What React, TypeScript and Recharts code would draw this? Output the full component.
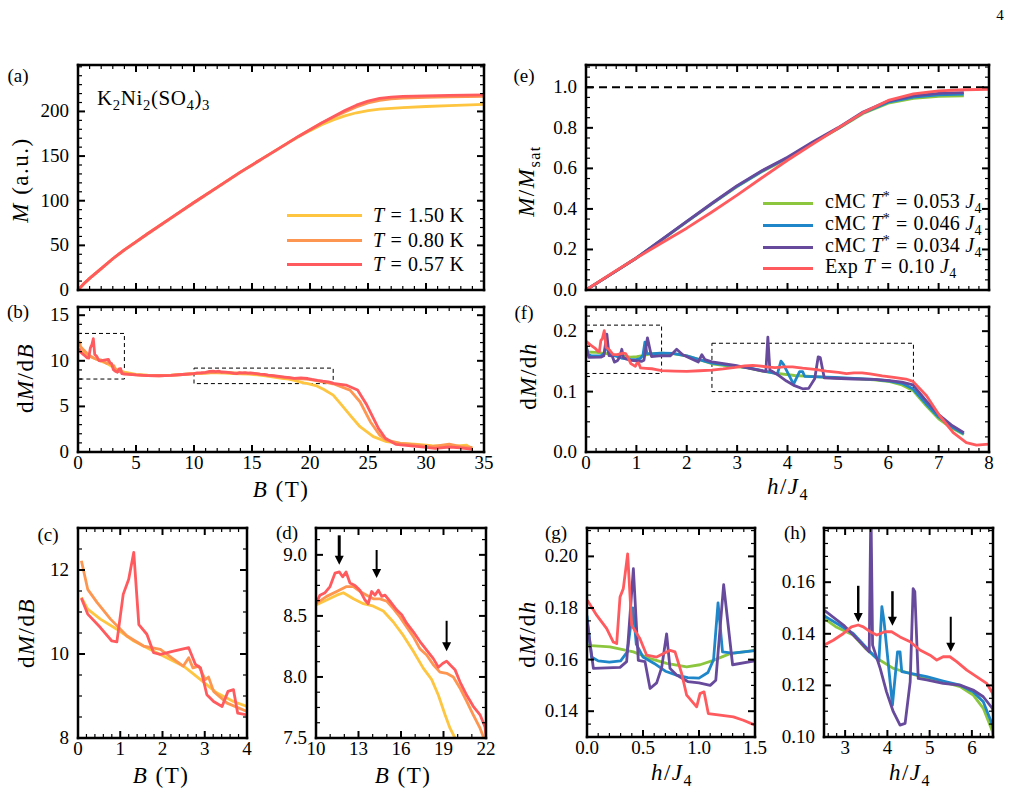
import React from "react";
import {
  LineChart,
  Line,
  XAxis,
  YAxis,
  ReferenceLine,
  ReferenceArea,
} from "recharts";

const FONT = '"Liberation Serif", "DejaVu Serif", serif';
const YELLOW = "#fdc540";
const ORANGE = "#fd9650";
const RED = "#ff5a5e";
const GREEN = "#8cc63f";
const BLUE = "#1f87c9";
const PURPLE = "#674a9c";

// ---- (a) magnetisation M(B) ----
const mB = [0, 0.5, 1, 2, 3, 4, 5, 6, 8, 10, 12, 14, 16, 18, 19, 20, 21, 22, 23, 24, 25, 26, 27, 28, 30, 32, 35];
const mRed = [0, 7, 13, 24, 35, 45, 54, 63, 80.5, 98, 115, 132, 148, 164, 172, 179.5, 187, 194, 201, 207, 211.5, 214.5, 216, 216.8, 217.5, 218, 218.5];
const mOrange = [0, 7, 13, 24, 35, 45, 54, 63, 80.5, 98, 115, 132, 148, 164, 172, 179.5, 187, 193.5, 199.5, 205, 209.5, 212.5, 214, 215, 215.8, 216.2, 216.8];
const mYellow = [0, 7, 13, 24, 35, 45, 54, 63, 80.5, 98, 115, 132, 148, 164, 171.5, 178.5, 185, 190.5, 195, 198.5, 201, 202.5, 203.5, 204.3, 205.5, 206.5, 208];

// ---- (b),(c),(d) dM/dB ----
const dRedB = [0.08, 0.23, 0.53, 0.8, 0.92, 1.07, 1.2, 1.32, 1.44, 1.63, 1.79, 1.95, 2.26, 2.62, 2.78, 2.9, 3.05, 3.21, 3.41, 3.55, 3.68, 3.78, 4.0, 5, 6, 7, 8, 9, 10, 10.28, 10.64, 10.99, 11.34, 11.65, 11.88, 12.12, 12.4, 12.75, 13.1, 13.46, 13.69, 13.93, 14.16, 14.4, 14.64, 14.87, 15.22, 15.69, 16.05, 16.4, 16.87, 17.34, 17.81, 18.28, 18.64, 18.94, 19.22, 19.46, 19.81, 20.16, 20.64, 21.1, 21.58, 21.93, 22, 23.1, 24.1, 24.9, 25.9, 26.5, 27.4, 28.5, 29.4, 30.8, 32, 33, 34];
const dRedV = [11.33, 10.95, 10.63, 10.31, 10.29, 11.42, 11.78, 12.42, 10.7, 10.47, 10.03, 9.99, 10.07, 10.15, 9.75, 9.67, 9.03, 8.87, 8.75, 9.11, 9.15, 8.59, 8.55, 8.45, 8.38, 8.36, 8.4, 8.5, 8.6, 8.67, 8.69, 8.74, 8.85, 8.86, 8.82, 8.86, 8.77, 8.75, 8.71, 8.63, 8.6, 8.7, 8.67, 8.71, 8.66, 8.67, 8.62, 8.55, 8.51, 8.44, 8.37, 8.29, 8.22, 8.15, 8.08, 8.11, 8.13, 8.1, 8.06, 7.96, 7.85, 7.76, 7.69, 7.59, 7.52, 7.34, 6.79, 5.15, 2.59, 1.5, 0.84, 0.7, 0.58, 0.4, 0.55, 0.45, 0.3];
const dOrangeB = [0.08, 0.23, 0.45, 0.77, 1.16, 1.55, 1.95, 2.22, 2.49, 2.62, 2.72, 2.86, 3.01, 3.09, 3.21, 3.53, 4.0, 5, 6, 7, 8, 9, 10, 10.75, 11.46, 12.16, 12.64, 13.1, 13.58, 14.05, 14.52, 15.0, 15.46, 15.93, 16.4, 16.87, 17.34, 17.81, 18.28, 18.75, 19.22, 19.69, 20.16, 20.64, 21.1, 21.58, 21.81, 22.0, 23.45, 24.31, 25.2, 26.0, 26.6, 27.8, 29, 30.5, 32, 33, 34];
const dOrangeV = [12.22, 11.54, 11.23, 10.83, 10.43, 10.19, 10.11, 9.91, 9.71, 9.91, 9.67, 9.71, 9.39, 9.45, 9.11, 8.83, 8.63, 8.45, 8.38, 8.36, 8.4, 8.5, 8.6, 8.66, 8.7, 8.74, 8.74, 8.7, 8.67, 8.64, 8.64, 8.62, 8.56, 8.49, 8.41, 8.33, 8.23, 8.18, 8.1, 8.04, 8.03, 8.0, 7.91, 7.8, 7.69, 7.58, 7.51, 7.48, 6.79, 5.51, 3.32, 1.86, 1.31, 0.95, 0.8, 0.6, 0.85, 0.6, 0.5];
const dYellowB = [0.08, 0.23, 0.53, 0.92, 1.32, 1.71, 2.1, 2.5, 2.9, 3.29, 3.68, 4.0, 5, 6, 7, 8, 9, 10, 10.75, 11.46, 11.93, 12.64, 13.34, 14.05, 14.75, 15.46, 16.16, 16.87, 17.58, 18.16, 18.64, 19.11, 19.46, 19.81, 20.5, 21.2, 22.0, 22.7, 23.45, 24.31, 25.46, 26.6, 27.8, 29, 30.5, 32, 33.5, 34];
const dYellowV = [11.35, 11.07, 10.83, 10.59, 10.31, 10.11, 9.91, 9.71, 9.39, 9.07, 8.87, 8.75, 8.5, 8.42, 8.4, 8.42, 8.5, 8.59, 8.63, 8.67, 8.69, 8.64, 8.6, 8.58, 8.54, 8.45, 8.34, 8.21, 8.07, 7.98, 7.85, 7.69, 7.58, 7.5, 7.28, 6.85, 6.24, 5.2, 4.05, 2.77, 1.68, 1.13, 0.95, 0.85, 0.7, 0.6, 0.75, 0.3];

// ---- (e) M/Msat vs h/J4 ----
const eH = [0, 0.5, 1, 1.5, 2, 2.5, 3, 3.5, 4, 4.5, 5, 5.5, 6, 6.5, 7, 7.5];
const eGreen = [0, 0.078, 0.158, 0.246, 0.336, 0.425, 0.51, 0.585, 0.65, 0.725, 0.795, 0.871, 0.922, 0.945, 0.955, 0.958];
const eBlue = [0, 0.078, 0.158, 0.247, 0.337, 0.426, 0.512, 0.587, 0.652, 0.727, 0.797, 0.874, 0.927, 0.952, 0.963, 0.967];
const ePurple = [0, 0.078, 0.158, 0.248, 0.338, 0.428, 0.515, 0.59, 0.655, 0.73, 0.8, 0.878, 0.932, 0.958, 0.97, 0.974];
const eExpH = [0, 0.5, 1, 1.5, 2, 2.5, 3, 3.5, 4, 4.5, 5, 5.5, 6, 6.5, 7, 7.5, 8];
const eExp = [0, 0.08, 0.158, 0.232, 0.305, 0.385, 0.468, 0.555, 0.64, 0.72, 0.798, 0.875, 0.935, 0.968, 0.982, 0.988, 0.99];

// ---- (f),(g),(h) dM/dh ----
const fExpH = [0.003, 0.086, 0.176, 0.235, 0.265, 0.295, 0.324, 0.363, 0.399, 0.473, 0.533, 0.622, 0.741, 0.786, 0.845, 0.89, 0.979, 1.009, 1.045, 1.083, 1.188, 1.307, 1.396, 1.5, 1.75, 2.0, 2.25, 2.5, 2.72, 2.96, 3.15, 3.31, 3.43, 3.59, 3.75, 3.94, 4.1, 4.3, 4.54, 4.77, 5.01, 5.17, 5.32, 5.48, 5.64, 5.88, 6.11, 6.35, 6.49, 6.76, 7.02, 7.29, 7.55, 7.75, 8.0];
const fExpV = [0.183, 0.1772, 0.172, 0.1668, 0.1662, 0.1843, 0.1875, 0.201, 0.1733, 0.1681, 0.1617, 0.161, 0.1636, 0.163, 0.1546, 0.1462, 0.1417, 0.1468, 0.1475, 0.1391, 0.1385, 0.1378, 0.1365, 0.1346, 0.134, 0.1335, 0.1345, 0.1356, 0.1375, 0.1401, 0.1427, 0.1434, 0.1427, 0.1408, 0.1395, 0.1408, 0.1408, 0.1388, 0.1369, 0.1337, 0.1317, 0.1298, 0.1311, 0.1311, 0.1292, 0.1259, 0.1234, 0.1208, 0.1169, 0.093, 0.06, 0.032, 0.0156, 0.0115, 0.013];
const fGreenH = [0, 0.205, 0.414, 0.563, 0.711, 0.89, 1.009, 1.128, 1.277, 1.5, 1.75, 2.0, 2.25, 2.5, 2.8, 3.19, 3.5, 3.75, 4.14, 4.54, 4.93, 5.32, 5.72, 6.03, 6.27, 6.49, 6.75, 7.0, 7.25, 7.5];
const fGreenV = [0.1655, 0.1649, 0.163, 0.1604, 0.1585, 0.1572, 0.158, 0.1597, 0.1623, 0.1636, 0.1625, 0.159, 0.153, 0.146, 0.1425, 0.1395, 0.134, 0.1305, 0.1266, 0.1246, 0.1227, 0.1214, 0.1195, 0.1163, 0.1111, 0.102, 0.077, 0.055, 0.04, 0.029];
const fBlueH = [0, 0.04, 0.1, 0.2, 0.3, 0.36, 0.41, 0.44, 0.5, 0.6, 0.7, 0.8, 0.9, 1.0, 1.08, 1.13, 1.17, 1.21, 1.3, 1.4, 1.5, 1.75, 2.0, 2.25, 2.5, 3.19, 3.67, 3.8, 3.87, 3.92, 4.12, 4.24, 4.3, 4.34, 4.93, 5.32, 5.72, 6.03, 6.27, 6.49, 6.75, 7.0, 7.25, 7.5];
const fBlueV = [0.177, 0.161, 0.1595, 0.159, 0.1595, 0.163, 0.18, 0.166, 0.161, 0.1585, 0.1555, 0.154, 0.153, 0.1528, 0.155, 0.16, 0.182, 0.163, 0.1625, 0.163, 0.1635, 0.163, 0.159, 0.153, 0.147, 0.1401, 0.1317, 0.1295, 0.1505, 0.145, 0.1124, 0.133, 0.133, 0.1253, 0.1234, 0.1217, 0.1201, 0.1175, 0.1137, 0.1046, 0.08, 0.058, 0.042, 0.03];
const fPurpleH = [0, 0.057, 0.295, 0.354, 0.414, 0.458, 0.518, 0.563, 0.622, 0.667, 0.711, 0.741, 0.8, 0.9, 1.0, 1.1, 1.15, 1.22, 1.3, 1.5, 1.67, 1.8, 1.92, 2.1, 2.23, 2.3, 2.36, 2.5, 2.96, 3.35, 3.57, 3.61, 3.65, 3.83, 3.98, 4.14, 4.3, 4.42, 4.54, 4.61, 4.65, 4.73, 4.93, 5.32, 5.72, 6.03, 6.27, 6.49, 6.75, 7.0, 7.25, 7.5];
const fPurpleV = [0.1752, 0.1566, 0.157, 0.1592, 0.1952, 0.1597, 0.1592, 0.1488, 0.151, 0.157, 0.17, 0.1566, 0.154, 0.1515, 0.151, 0.15, 0.152, 0.189, 0.158, 0.1595, 0.159, 0.17, 0.161, 0.154, 0.149, 0.161, 0.153, 0.1492, 0.1434, 0.1369, 0.133, 0.19, 0.1356, 0.1266, 0.1175, 0.1098, 0.1046, 0.1053, 0.1214, 0.1575, 0.1563, 0.1227, 0.1221, 0.1208, 0.1201, 0.1182, 0.1156, 0.111, 0.085, 0.062, 0.045, 0.032];

// ---- tick labels ----
const bTicks = [0, 5, 10, 15, 20, 25, 30, 35];
const aYTicks = [0, 50, 100, 150, 200];
const bYTicks = [0, 5, 10, 15];
const cXTicks = [0, 1, 2, 3, 4];
const cYTicks = [8, 10, 12];
const dXTicks = [10, 13, 16, 19, 22];
const dYTicks = [7.5, 8.0, 8.5, 9.0];
const hTicks = [0, 1, 2, 3, 4, 5, 6, 7, 8];
const eYTicks = [0, 0.2, 0.4, 0.6, 0.8, 1.0];
const fYTicks = [0, 0.1, 0.2];
const gXTicks = [0, 0.5, 1.0, 1.5];
const gYTicks = [0.14, 0.16, 0.18, 0.2];
const hXTicks = [3, 4, 5, 6];
const hYTicks = [0.1, 0.12, 0.14, 0.16];

// ---- annotations ----
const dArrows = [
  { x: 11.64, from: 9.16, to: 8.92, w: 3 },
  { x: 14.28, from: 9.04, to: 8.81, w: 2 },
  { x: 19.22, from: 8.46, to: 8.21, w: 2 },
];
const hArrows = [
  { x: 3.31, from: 0.1586, to: 0.1446, w: 2.5 },
  { x: 4.12, from: 0.1565, to: 0.1431, w: 2.5 },
  { x: 5.5, from: 0.1466, to: 0.133, w: 2 },
];

const pts = (xs: number[], ys: number[]) => xs.map((x, i) => ({ x, y: ys[i] }));

function withMinor(majors: number[], step: number, dom: [number, number]) {
  const out: number[] = [];
  const n0 = Math.ceil(dom[0] / step - 1e-9);
  const n1 = Math.floor(dom[1] / step + 1e-9);
  for (let k = n0; k <= n1; k++) out.push(+(k * step).toFixed(6));
  majors.forEach((m) => {
    if (!out.some((v) => Math.abs(v - m) < 1e-9)) out.push(m);
  });
  return out.sort((a, b) => a - b);
}

type Fmt = ((v: number) => string) | null;

const tickFn = (side: string, majors: number[], fmt: Fmt) => (props: any) => {
  const { x, y, payload } = props;
  const v = payload.value;
  const major = majors.some((m) => Math.abs(m - v) < 1e-7);
  const L = major ? 7 : 4;
  const sw = major ? 2 : 1.2;
  let line;
  let text = null;
  const ts = { fontFamily: FONT, fontSize: 19, fill: "#000" };
  if (side === "bottom") {
    line = <line x1={x} y1={y} x2={x} y2={y - L} stroke="#000" strokeWidth={sw} />;
    if (major && fmt)
      text = (
        <text x={x} y={y + 17} textAnchor="middle" style={ts}>
          {fmt(v)}
        </text>
      );
  } else if (side === "top") {
    line = <line x1={x} y1={y} x2={x} y2={y + L} stroke="#000" strokeWidth={sw} />;
  } else if (side === "left") {
    line = <line x1={x} y1={y} x2={x + L} y2={y} stroke="#000" strokeWidth={sw} />;
    if (major && fmt)
      text = (
        <text x={x - 9} y={y + 6} textAnchor="end" style={ts}>
          {fmt(v)}
        </text>
      );
  } else {
    line = <line x1={x} y1={y} x2={x - L} y2={y} stroke="#000" strokeWidth={sw} />;
  }
  return (
    <g>
      {line}
      {text}
    </g>
  );
};

const arrowShape = (w: number) => (p: any) => {
  const { x1, y1, x2, y2 } = p;
  const head = 9;
  return (
    <g>
      <line x1={x1} y1={y1} x2={x2} y2={y2 - head + 1} stroke="#000" strokeWidth={w} />
      <polygon points={`${x2},${y2} ${x2 - 4.5},${y2 - head} ${x2 + 4.5},${y2 - head}`} fill="#000" />
    </g>
  );
};

const FRAME = { stroke: "#000", strokeWidth: 2.5, strokeLinecap: "square" as const };
// outer space round each plot rectangle (axes take 1px each)
const ML = 70;
const MR = 22;
const MT = 14;
const MB = 34;

interface PanelProps {
  left: number;
  top: number;
  w: number;
  h: number;
  xDomain: [number, number];
  yDomain: [number, number];
  xMajor: number[];
  xMinor: number;
  yMajor: number[];
  yMinor: number;
  xFmt: Fmt;
  yFmt: Fmt;
  children: React.ReactNode;
}

function Panel(p: PanelProps) {
  const W = ML + p.w + MR;
  const H = MT + p.h + MB;
  const xt = withMinor(p.xMajor, p.xMinor, p.xDomain);
  const yt = withMinor(p.yMajor, p.yMinor, p.yDomain);
  const common = {
    type: "number" as const,
    allowDataOverflow: true,
    interval: 0 as const,
    tickSize: 0,
    tickMargin: 0,
    tickLine: false,
    axisLine: FRAME,
  };
  return (
    <div style={{ position: "absolute", left: p.left - ML, top: p.top - MT }}>
      <LineChart width={W} height={H} margin={{ top: MT - 1, right: MR - 1, bottom: MB - 1, left: ML - 1 }}>
        <XAxis {...common} xAxisId={0} dataKey="x" domain={p.xDomain} ticks={xt} height={1} tick={tickFn("bottom", p.xMajor, p.xFmt)} />
        <XAxis {...common} xAxisId="top" orientation="top" dataKey="x" domain={p.xDomain} ticks={xt} height={1} tick={tickFn("top", p.xMajor, null)} />
        <YAxis {...common} yAxisId={0} domain={p.yDomain} ticks={yt} width={1} tick={tickFn("left", p.yMajor, p.yFmt)} />
        <YAxis {...common} yAxisId="right" orientation="right" domain={p.yDomain} ticks={yt} width={1} tick={tickFn("right", p.yMajor, null)} />
        {p.children}
      </LineChart>
    </div>
  );
}

const series = (data: { x: number; y: number }[], color: string, key: string) => (
  <Line
    key={key}
    data={data}
    dataKey="y"
    type="linear"
    stroke={color}
    strokeWidth={2.8}
    strokeLinejoin="round"
    dot={false}
    activeDot={false}
    isAnimationActive={false}
  />
);

const box = (x1: number, x2: number, y1: number, y2: number, key: string) => (
  <ReferenceArea key={key} x1={x1} x2={x2} y1={y1} y2={y2} fill="none" stroke="#000" strokeWidth={1} strokeDasharray="4 3" ifOverflow="visible" />
);

const arrows = (list: typeof dArrows, prefix: string) =>
  list.map((a, i) => (
    <ReferenceLine
      key={prefix + i}
      segment={[
        { x: a.x, y: a.from },
        { x: a.x, y: a.to },
      ]}
      shape={arrowShape(a.w)}
      ifOverflow="visible"
    />
  ));

const int = (v: number) => String(v);
const f1 = (v: number) => v.toFixed(1);
const f2 = (v: number) => v.toFixed(2);

function Txt(props: { x: number; y: number; size: number; rot?: boolean; left?: boolean; ls?: number; children: React.ReactNode }) {
  const { x, y, size, rot, left, ls, children } = props;
  return (
    <div
      style={{
        position: "absolute",
        left: x,
        top: y,
        transform: `translate(${left ? "0" : "-50%"},-50%)${rot ? " rotate(-90deg)" : ""}`,
        fontFamily: FONT,
        fontSize: size,
        letterSpacing: ls ?? 0,
        lineHeight: 1,
        whiteSpace: "nowrap",
        color: "#000",
      }}
    >
      {children}
    </div>
  );
}

const I = (s: string) => <i>{s}</i>;

function LegendRow(props: { x: number; y: number; w: number; color: string; tx: number; children: React.ReactNode }) {
  return (
    <>
      <div style={{ position: "absolute", left: props.x, top: props.y - 1.5, width: props.w, height: 3, background: props.color }} />
      <Txt x={props.tx} y={props.y} size={20} ls={0.3} left>
        {props.children}
      </Txt>
    </>
  );
}

const dMdB = <span>d{I("M")}/d{I("B")}</span>;
const dMdh = <span>d{I("M")}/d{I("h")}</span>;
const BT = <span>{I("B")} (T)</span>;
const hJ = <span>{I("h")}/{I("J")}<sub style={{ fontSize: "0.7em" }}>4</sub></span>;
const eq = <span style={{ margin: "0 6px" }}>=</span>;

export default function App() {
  const ra = pts(mB, mRed);
  const oa = pts(mB, mOrange);
  const ya = pts(mB, mYellow);
  const rb = pts(dRedB, dRedV);
  const ob = pts(dOrangeB, dOrangeV);
  const yb = pts(dYellowB, dYellowV);
  const ge = pts(eH, eGreen);
  const be = pts(eH, eBlue);
  const pe = pts(eH, ePurple);
  const xe = pts(eExpH, eExp);
  const xf = pts(fExpH, fExpV);
  const gf = pts(fGreenH, fGreenV);
  const bf = pts(fBlueH, fBlueV);
  const pf = pts(fPurpleH, fPurpleV);

  const bSeries = [series(yb, YELLOW, "y"), series(ob, ORANGE, "o"), series(rb, RED, "r")];
  const fSeries = [series(gf, GREEN, "g"), series(bf, BLUE, "b"), series(pf, PURPLE, "p"), series(xf, RED, "x")];

  return (
    <div style={{ position: "absolute", left: 0, top: 0, width: 1019, height: 793, background: "#fff", overflow: "hidden" }}>
      <Txt x={1000} y={15} size={15}>4</Txt>

      {/* (a) */}
      <Panel left={78} top={65} w={406} h={225} xDomain={[0, 35]} yDomain={[0, 252]} xMajor={bTicks} xMinor={1} yMajor={aYTicks} yMinor={10} xFmt={null} yFmt={int}>
        {[series(ya, YELLOW, "y"), series(oa, ORANGE, "o"), series(ra, RED, "r")]}
      </Panel>
      {/* (b) */}
      <Panel left={78} top={307} w={406} h={145} xDomain={[0, 35]} yDomain={[0, 15.9]} xMajor={bTicks} xMinor={1} yMajor={bYTicks} yMinor={1} xFmt={int} yFmt={int}>
        {[box(0, 4, 8, 13, "b1"), box(10, 22, 7.5, 9.2, "b2"), ...bSeries]}
      </Panel>
      {/* (c) */}
      <Panel left={78} top={528} w={169} h={210} xDomain={[0, 4]} yDomain={[8, 13]} xMajor={cXTicks} xMinor={0.2} yMajor={cYTicks} yMinor={0.5} xFmt={int} yFmt={int}>
        {bSeries}
      </Panel>
      {/* (d) */}
      <Panel left={316} top={528} w={170} h={210} xDomain={[10, 22]} yDomain={[7.5, 9.22]} xMajor={dXTicks} xMinor={1} yMajor={dYTicks} yMinor={0.125} xFmt={int} yFmt={f1}>
        {[...bSeries, ...arrows(dArrows, "da")]}
      </Panel>
      {/* (e) */}
      <Panel left={586} top={65} w={403} h={225} xDomain={[0, 8]} yDomain={[0, 1.11]} xMajor={hTicks} xMinor={0.2} yMajor={eYTicks} yMinor={0.05} xFmt={null} yFmt={f1}>
        {[
          <ReferenceLine key="sat" y={1} stroke="#000" strokeWidth={2} strokeDasharray="8 5" />,
          series(ge, GREEN, "g"),
          series(be, BLUE, "b"),
          series(pe, PURPLE, "p"),
          series(xe, RED, "x"),
        ]}
      </Panel>
      {/* (f) */}
      <Panel left={586} top={307} w={403} h={145} xDomain={[0, 8]} yDomain={[0, 0.24]} xMajor={hTicks} xMinor={0.2} yMajor={fYTicks} yMinor={0.025} xFmt={int} yFmt={f1}>
        {[box(0, 1.5, 0.13, 0.21, "f1"), box(2.5, 6.5, 0.1, 0.18, "f2"), ...fSeries]}
      </Panel>
      {/* (g) */}
      <Panel left={587} top={528} w={168} h={209} xDomain={[0, 1.5]} yDomain={[0.13, 0.211]} xMajor={gXTicks} xMinor={0.1} yMajor={gYTicks} yMinor={0.005} xFmt={f1} yFmt={f2}>
        {fSeries}
      </Panel>
      {/* (h) */}
      <Panel left={824} top={528} w={169} h={209} xDomain={[2.5, 6.5]} yDomain={[0.1, 0.181]} xMajor={hXTicks} xMinor={0.2} yMajor={hYTicks} yMinor={0.005} xFmt={int} yFmt={f2}>
        {[...fSeries, ...arrows(hArrows, "ha")]}
      </Panel>

      {/* panel letters */}
      <Txt x={18} y={75} size={19}>(a)</Txt>
      <Txt x={18} y={311} size={19}>(b)</Txt>
      <Txt x={524} y={75} size={19}>(e)</Txt>
      <Txt x={524} y={312} size={19}>(f)</Txt>
      <Txt x={48} y={534} size={19}>(c)</Txt>
      <Txt x={287} y={532} size={19}>(d)</Txt>
      <Txt x={556} y={532} size={19}>(g)</Txt>
      <Txt x={795} y={532} size={19}>(h)</Txt>

      <Txt x={97} y={100} size={21} ls={0.6} left>
        K<sub style={{ fontSize: "0.7em" }}>2</sub>Ni<sub style={{ fontSize: "0.7em" }}>2</sub>(SO<sub style={{ fontSize: "0.7em" }}>4</sub>)<sub style={{ fontSize: "0.7em" }}>3</sub>
      </Txt>

      {/* axis titles */}
      <Txt x={20} y={180} size={23} ls={1.5} rot>{I("M")} (a.u.)</Txt>
      <Txt x={25} y={378} size={23} ls={1.5} rot>{dMdB}</Txt>
      <Txt x={26} y={633} size={23} ls={1.5} rot>{dMdB}</Txt>
      <Txt x={529} y={181} size={23} ls={1.5} rot>
        {I("M")}/{I("M")}<sub style={{ fontSize: "0.7em" }}>sat</sub>
      </Txt>
      <Txt x={528} y={376} size={23} ls={1.5} rot>{dMdh}</Txt>
      <Txt x={527} y={634} size={23} ls={1.5} rot>{dMdh}</Txt>

      <Txt x={281} y={489} size={23} ls={1.5}>{BT}</Txt>
      <Txt x={788} y={489} size={23} ls={1.5}>{hJ}</Txt>
      <Txt x={161} y={775} size={23} ls={1.5}>{BT}</Txt>
      <Txt x={403} y={775} size={23} ls={1.5}>{BT}</Txt>
      <Txt x={672} y={775} size={23} ls={1.5}>{hJ}</Txt>
      <Txt x={910} y={775} size={23} ls={1.5}>{hJ}</Txt>

      {/* legend (a) */}
      <LegendRow x={287} y={215} w={75} color={YELLOW} tx={373}>{I("T")}{eq}1.50 K</LegendRow>
      <LegendRow x={287} y={240} w={75} color={ORANGE} tx={373}>{I("T")}{eq}0.80 K</LegendRow>
      <LegendRow x={287} y={264} w={75} color={RED} tx={373}>{I("T")}{eq}0.57 K</LegendRow>

      {/* legend (e) */}
      <LegendRow x={763} y={203} w={50} color={GREEN} tx={825}>cMC {I("T")}<sup style={{ fontSize: "0.7em" }}>*</sup>{eq}0.053 {I("J")}<sub style={{ fontSize: "0.7em" }}>4</sub></LegendRow>
      <LegendRow x={763} y={225} w={50} color={BLUE} tx={825}>cMC {I("T")}<sup style={{ fontSize: "0.7em" }}>*</sup>{eq}0.046 {I("J")}<sub style={{ fontSize: "0.7em" }}>4</sub></LegendRow>
      <LegendRow x={763} y={247} w={50} color={PURPLE} tx={825}>cMC {I("T")}<sup style={{ fontSize: "0.7em" }}>*</sup>{eq}0.034 {I("J")}<sub style={{ fontSize: "0.7em" }}>4</sub></LegendRow>
      <LegendRow x={763} y={268} w={50} color={RED} tx={825}>Exp {I("T")}{eq}0.10 {I("J")}<sub style={{ fontSize: "0.7em" }}>4</sub></LegendRow>
    </div>
  );
}
